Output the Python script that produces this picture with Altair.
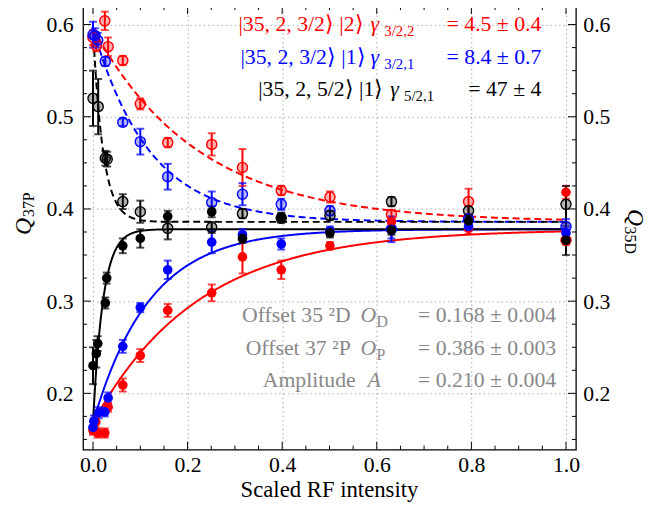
import numpy as np
import pandas as pd
import altair as alt

FONT = "Liberation Serif"
W, H = 499, 449
X_DOMAIN = [-0.021, 1.021]
Y_DOMAIN = [0.139, 0.62]

# ---- fit parameters printed on the chart ----
O_D, O_P, AMP = 0.168, 0.386, 0.210
GAMMA = {"s322": 4.5, "s321": 8.4, "s521": 47.0}

SERIES = ["s322", "s321", "s521"]
COLORS = ["#ff0000", "#0000ff", "#000000"]

# ---- measured points: Q_37P (filled) and Q_35D (open) ----
red_fill_x = [0.0, 0.006, 0.010, 0.025, 0.032, 0.063, 0.100, 0.158, 0.251, 0.316, 0.398, 0.501, 0.631, 0.794, 1.0]
red_fill_y = [0.160, 0.169, 0.157, 0.157, 0.185, 0.209, 0.241, 0.290, 0.309, 0.348, 0.334, 0.360, 0.386, 0.379, 0.418]
red_fill_e = [0.005, 0.006, 0.005, 0.005, 0.005, 0.007, 0.007, 0.007, 0.009, 0.018, 0.010, 0.004, 0.005, 0.006, 0.007]

red_open_x = [0.0, 0.007, 0.025, 0.032, 0.063, 0.100, 0.158, 0.251, 0.316, 0.398, 0.501, 0.631, 0.794, 1.0]
red_open_y = [0.586, 0.577, 0.604, 0.576, 0.561, 0.514, 0.472, 0.470, 0.445, 0.420, 0.413, 0.394, 0.408, 0.366]
red_open_e = [0.008, 0.006, 0.010, 0.010, 0.005, 0.006, 0.005, 0.012, 0.020, 0.005, 0.006, 0.005, 0.014, 0.005]

blue_fill_x = [0.0, 0.002, 0.012, 0.025, 0.032, 0.063, 0.100, 0.158, 0.251, 0.316, 0.398, 0.501, 0.631, 0.794, 1.0]
blue_fill_y = [0.163, 0.170, 0.179, 0.180, 0.195, 0.251, 0.293, 0.334, 0.364, 0.372, 0.362, 0.376, 0.378, 0.381, 0.374]
blue_fill_e = [0.006, 0.006, 0.006, 0.005, 0.006, 0.007, 0.005, 0.010, 0.012, 0.006, 0.006, 0.005, 0.010, 0.005, 0.006]

blue_open_x = [0.0, 0.004, 0.010, 0.026, 0.063, 0.100, 0.158, 0.251, 0.316, 0.398, 0.501, 0.631, 0.794, 1.0]
blue_open_y = [0.589, 0.588, 0.583, 0.560, 0.494, 0.473, 0.435, 0.407, 0.416, 0.405, 0.398, 0.378, 0.389, 0.381]
blue_open_e = [0.014, 0.008, 0.008, 0.005, 0.004, 0.014, 0.014, 0.012, 0.012, 0.006, 0.005, 0.014, 0.005, 0.008]

black_fill_x = [0.0, 0.007, 0.010, 0.026, 0.029, 0.063, 0.100, 0.158, 0.251, 0.316, 0.398, 0.501, 0.631, 0.794, 1.0]
black_fill_y = [0.230, 0.243, 0.254, 0.298, 0.325, 0.360, 0.368, 0.392, 0.397, 0.368, 0.391, 0.374, 0.377, 0.387, 0.366]
black_fill_e = [0.020, 0.015, 0.008, 0.006, 0.006, 0.008, 0.010, 0.006, 0.006, 0.005, 0.005, 0.005, 0.005, 0.005, 0.016]

black_open_x = [0.0, 0.011, 0.026, 0.030, 0.063, 0.100, 0.158, 0.251, 0.316, 0.398, 0.501, 0.631, 0.794, 1.0]
black_open_y = [0.520, 0.511, 0.455, 0.454, 0.408, 0.397, 0.379, 0.380, 0.395, 0.390, 0.393, 0.408, 0.398, 0.405]
black_open_e = [0.030, 0.030, 0.008, 0.008, 0.008, 0.012, 0.012, 0.006, 0.005, 0.005, 0.005, 0.005, 0.005, 0.020]

# ---- ticks ----
x_major = [0.0, 0.2, 0.4, 0.6, 0.8, 1.0]
x_minor = [0.05, 0.1, 0.15, 0.25, 0.3, 0.35, 0.45, 0.5, 0.55, 0.65, 0.7, 0.75, 0.85, 0.9, 0.95]
y_major = [0.2, 0.3, 0.4, 0.5, 0.6]
y_minor = [0.15, 0.175, 0.225, 0.25, 0.275, 0.325, 0.35, 0.375, 0.425, 0.45, 0.475, 0.525, 0.55, 0.575]

# ---- build tables ----
rows = []
def add(series, kind, xs, ys, es):
    for x, y, e in zip(xs, ys, es):
        rows.append(dict(series=series, kind=kind, x=x, y=y, lo=y - e, hi=y + e))

add("s322", "fill", red_fill_x, red_fill_y, red_fill_e)
add("s322", "open", red_open_x, red_open_y, red_open_e)
add("s321", "fill", blue_fill_x, blue_fill_y, blue_fill_e)
add("s321", "open", blue_open_x, blue_open_y, blue_open_e)
add("s521", "fill", black_fill_x, black_fill_y, black_fill_e)
add("s521", "open", black_open_x, black_open_y, black_open_e)
pts = pd.DataFrame(rows)

xf = np.concatenate([np.linspace(0, 0.1, 300), np.linspace(0.1, 1.0, 200)[1:]])
crow = []
for s in SERIES:
    g = GAMMA[s]
    for x in xf:
        crow.append(dict(series=s, kind="rise", key=s + "r", x=x, y=O_D + AMP * (1 - np.exp(-g * x))))
        crow.append(dict(series=s, kind="decay", key=s + "d", x=x, y=O_P + AMP * np.exp(-g * x)))
curves = pd.DataFrame(crow)

xs = alt.Scale(domain=X_DOMAIN, nice=False, zero=False)
ys = alt.Scale(domain=Y_DOMAIN, nice=False, zero=False)
cs = alt.Scale(domain=SERIES, range=COLORS)

common = dict(format=".1f", ticks=False, domain=False, labelFont=FONT, labelFontSize=22,
              labelFontWeight="normal", labelColor="black", title=None)
x_axis = alt.Axis(values=x_major, grid=True, gridDash=[1.5, 3], gridColor="#aaaaaa", gridWidth=1,
                  labelPadding=5, labelFlush=False, **common)
y_axis = alt.Axis(values=y_major, grid=True, gridDash=[1.5, 3], gridColor="#aaaaaa", gridWidth=1,
                  labelPadding=10, orient="left", **common)
y_axis_r = alt.Axis(values=y_major, grid=False, labelPadding=7, orient="right", **common)

X = lambda f: alt.X(f, scale=xs, axis=x_axis)
Y = lambda f: alt.Y(f, scale=ys, axis=y_axis)
col = alt.Color("series:N", scale=cs, legend=None)

curve_layer = alt.Chart(curves).mark_line(strokeWidth=2).encode(
    x=X("x:Q"), y=Y("y:Q"), color=col, detail="key:N",
    strokeDash=alt.StrokeDash("kind:N", scale=alt.Scale(domain=["rise", "decay"], range=[[1, 0], [7, 4]]), legend=None),
)
err_layer = alt.Chart(pts).mark_rule(strokeWidth=2).encode(x=X("x:Q"), y=Y("lo:Q"), y2="hi:Q", color=col)
cap_lo = alt.Chart(pts).mark_tick(orient="horizontal", size=8, thickness=2).encode(x=X("x:Q"), y=Y("lo:Q"), color=col)
cap_hi = alt.Chart(pts).mark_tick(orient="horizontal", size=8, thickness=2).encode(x=X("x:Q"), y=Y("hi:Q"), color=col)
open_layer = alt.Chart(pts).transform_filter(alt.datum.kind == "open").mark_point(
    shape="circle", filled=True, size=105, fillOpacity=0.3, strokeWidth=1.4, strokeOpacity=1, opacity=1
).encode(x=X("x:Q"), y=Y("y:Q"), fill=alt.Fill("series:N", scale=cs, legend=None),
         stroke=alt.Stroke("series:N", scale=cs, legend=None))
fill_layer = alt.Chart(pts).transform_filter(alt.datum.kind == "fill").mark_circle(size=95, opacity=1).encode(
    x=X("x:Q"), y=Y("y:Q"), color=col)

def xticks(vals, length):
    df = pd.DataFrame({"v": vals})
    b = alt.Chart(df).mark_rule(color="black", strokeWidth=1).encode(x=X("v:Q"), y=alt.value(H), y2=alt.value(H - length))
    t = alt.Chart(df).mark_rule(color="black", strokeWidth=1).encode(x=X("v:Q"), y=alt.value(0), y2=alt.value(length))
    return [b, t]

def yticks(vals, length, axis):
    df = pd.DataFrame({"v": vals})
    yl = alt.Y("v:Q", scale=ys, axis=axis)
    l = alt.Chart(df).mark_rule(color="black", strokeWidth=1).encode(y=yl, x=alt.value(0), x2=alt.value(length))
    r = alt.Chart(df).mark_rule(color="black", strokeWidth=1).encode(y=yl, x=alt.value(W), x2=alt.value(W - length))
    return l, r

def txt(s, x, y, size=22, color="black", italic=False, align="left", angle=0, baseline="alphabetic"):
    kw = dict(align=align, baseline=baseline, font=FONT, fontSize=size, fontWeight="normal",
              fontStyle="italic" if italic else "normal", color=color)
    if angle:
        kw["angle"] = angle
    return alt.Chart(pd.DataFrame({"t": [s]})).mark_text(**kw).encode(
        x=alt.value(x), y=alt.value(y), text="t:N")

texts = []
# fit legend (top right)
legend_lines = [
    ("|35, 2, 3/2⟩ |2⟩", "3/2,2", "= 4.5 ± 0.4", COLORS[0], 25.5, 284, 291),
    ("|35, 2, 3/2⟩ |1⟩", "3/2,1", "= 8.4 ± 0.7", COLORS[1], 59, 286, 291),
    ("|35, 2, 5/2⟩ |1⟩", "5/2,1", "= 47 ± 4", COLORS[2], 91.5, 304, 311),
]
for main, sub, val, c, yb, xr, xg in legend_lines:
    texts.append(txt(main, xr, yb, color=c, align="right"))
    texts.append(txt("γ", xg, yb, color=c, italic=True))
    texts.append(txt(sub, xg + 14, yb + 5, size=15, color=c))
    texts.append(txt(val, 464, yb, color=c, align="right"))

GRAY = "#888888"
texts += [
    txt("Offset 35 ²D", 271, 320, color=GRAY, align="right"),
    txt("O", 281, 320, color=GRAY, italic=True),
    txt("D", 297, 325, size=16, color=GRAY),
    txt("= 0.168 ± 0.004", 479, 320, color=GRAY, align="right"),
    txt("Offset 37 ²P", 271, 353, color=GRAY, align="right"),
    txt("O", 281, 353, color=GRAY, italic=True),
    txt("P", 297, 358, size=16, color=GRAY),
    txt("= 0.386 ± 0.003", 479, 353, color=GRAY, align="right"),
    txt("Amplitude", 276, 386, color=GRAY, align="right"),
    txt("A", 288, 386, color=GRAY, italic=True),
    txt("= 0.210 ± 0.004", 479, 386, color=GRAY, align="right"),
]
# axis titles
texts += [
    txt("Scaled RF intensity", W / 2, 497, size=23, align="center"),
    txt("Q", -60, 223, size=24, italic=True, align="center", angle=270, baseline="middle"),
    txt("37P", -55, 201, size=16, align="center", angle=270, baseline="middle"),
    txt("Q", 559, 214, size=24, italic=True, align="center", angle=90, baseline="middle"),
    txt("35D", 554, 237, size=16, align="center", angle=90, baseline="middle"),
]

yl_maj, yr_maj = yticks(y_major, 8, y_axis)
yl_min, yr_min = yticks(y_minor, 4, y_axis)
_, yr_maj_r = yticks(y_major, 8, y_axis_r)
_, yr_min_r = yticks(y_minor, 4, y_axis_r)

inner = alt.layer(
    curve_layer, err_layer, cap_lo, cap_hi, open_layer, fill_layer,
    *xticks(x_major, 8), *xticks(x_minor, 4), yl_maj, yl_min,
    *texts,
)
right = alt.layer(yr_maj_r, yr_min_r)

chart = alt.layer(inner, right).resolve_scale(y="independent").properties(
    width=W, height=H,
    autosize=alt.AutoSizeParams(type="none"),
    padding={"left": 76, "top": -5, "right": 75, "bottom": 53},
).configure_view(stroke="black", strokeWidth=1.3)

chart.save("out.html", embed_options={"renderer": "svg", "actions": False})
